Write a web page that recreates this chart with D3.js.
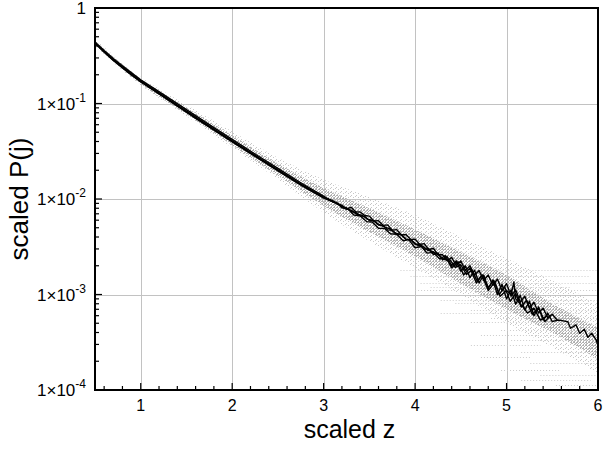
<!DOCTYPE html>
<html>
<head>
<meta charset="utf-8">
<script src="https://cdn.jsdelivr.net/npm/d3@7"></script>
<style>
  body { margin: 0; background: #fff; }
  svg text { font-family: "Liberation Sans", Arial, Helvetica, sans-serif; fill: #000; }
</style>
</head>
<body>
<svg width="603" height="453"></svg>
<script>
// ---- data ----
const xTicks = [1, 2, 3, 4, 5, 6];
const yDecades = [1, 1e-1, 1e-2, 1e-3, 1e-4];

// smooth part, shared z grid
const zSmooth = [0.5, 0.6, 0.7, 0.8, 0.9, 1.0, 1.2, 1.4, 1.6, 1.8, 2.0, 2.25, 2.5, 2.75, 3.0];
const pSmoothA = [0.434, 0.351, 0.288, 0.241, 0.203, 0.172, 0.129, 0.0962, 0.0719, 0.0541, 0.0407, 0.0286, 0.0202, 0.0143, 0.0104];
const pSmoothB = [0.440, 0.358, 0.295, 0.248, 0.209, 0.177, 0.133, 0.0995, 0.0745, 0.0560, 0.0421, 0.0296, 0.0209, 0.0148, 0.0107];
const pSmoothC = [0.426, 0.344, 0.282, 0.236, 0.198, 0.168, 0.126, 0.0935, 0.0700, 0.0526, 0.0396, 0.0279, 0.0197, 0.0140, 0.0102];
const pSmoothD = [0.431, 0.348, 0.286, 0.239, 0.201, 0.170, 0.127, 0.0950, 0.0712, 0.0534, 0.0402, 0.0283, 0.0200, 0.0142, 0.0104];

// noisy tails, [z, P]
const tailA = [
  [3.05, 0.0101], [3.10, 0.00930], [3.15, 0.00905], [3.20, 0.00830], [3.25, 0.00810], [3.30, 0.00740],
  [3.35, 0.00725], [3.40, 0.00665], [3.45, 0.00655], [3.50, 0.00595], [3.55, 0.00590], [3.60, 0.00535],
  [3.65, 0.00530], [3.70, 0.00475], [3.75, 0.00470], [3.80, 0.00425], [3.85, 0.00425], [3.90, 0.00378],
  [3.95, 0.00375], [4.00, 0.00335], [4.05, 0.00338], [4.10, 0.00298], [4.15, 0.00302], [4.20, 0.00262],
  [4.25, 0.00272], [4.30, 0.00230], [4.35, 0.00250], [4.40, 0.00200], [4.45, 0.00225], [4.50, 0.00175],
  [4.55, 0.00200], [4.60, 0.00150], [4.65, 0.00180], [4.70, 0.00132], [4.75, 0.00160], [4.80, 0.00115],
  [4.85, 0.00142], [4.90, 0.00100], [4.95, 0.00128], [5.00, 0.000900], [5.05, 0.00112], [5.10, 0.000790],
  [5.15, 0.000980], [5.20, 0.000690], [5.25, 0.000850], [5.30, 0.000600], [5.35, 0.000740], [5.40, 0.000540],
  [5.45, 0.000640], [5.50, 0.000520], [5.56, 0.000541], [5.61, 0.000532], [5.67, 0.000519], [5.70, 0.000443],
  [5.76, 0.000480], [5.80, 0.000393], [5.85, 0.000432], [5.89, 0.000356], [5.93, 0.000393], [5.98, 0.000334],
  [6.00, 0.000290]
];
const tailB = [
  [3.05, 0.0099], [3.10, 0.00965], [3.15, 0.00880], [3.20, 0.00860], [3.25, 0.00785], [3.30, 0.00820],
  [3.35, 0.00735], [3.40, 0.00730], [3.45, 0.00672], [3.50, 0.00662], [3.55, 0.00588], [3.60, 0.00593],
  [3.65, 0.00530], [3.70, 0.00536], [3.75, 0.00472], [3.80, 0.00478], [3.85, 0.00420], [3.90, 0.00425],
  [3.95, 0.00378], [4.00, 0.00380], [4.05, 0.00334], [4.10, 0.00341], [4.15, 0.00294], [4.20, 0.00305],
  [4.25, 0.00260], [4.30, 0.00262], [4.35, 0.00225], [4.40, 0.00245], [4.45, 0.00200], [4.50, 0.00225],
  [4.55, 0.00178], [4.60, 0.00200], [4.65, 0.00160], [4.70, 0.00178], [4.75, 0.00140], [4.80, 0.00160],
  [4.85, 0.00125], [4.90, 0.00145], [4.95, 0.00110], [5.00, 0.00130], [5.05, 0.000960], [5.10, 0.00112],
  [5.15, 0.000830], [5.20, 0.000960], [5.25, 0.000720], [5.30, 0.000830], [5.35, 0.000640], [5.40, 0.000720],
  [5.45, 0.000570], [5.50, 0.000620], [5.55, 0.000545]
];
const tailC = [
  [3.08, 0.00950], [3.14, 0.00920], [3.20, 0.00810], [3.27, 0.00780], [3.33, 0.00680], [3.40, 0.00665],
  [3.47, 0.00580], [3.53, 0.00575], [3.60, 0.00494], [3.67, 0.00489], [3.73, 0.00432], [3.80, 0.00428],
  [3.87, 0.00366], [3.93, 0.00375], [4.00, 0.00309], [4.07, 0.00318], [4.13, 0.00271], [4.20, 0.00276],
  [4.27, 0.00235], [4.33, 0.00255], [4.40, 0.00190], [4.47, 0.00220], [4.53, 0.00160], [4.60, 0.00190],
  [4.67, 0.00132], [4.73, 0.00160], [4.80, 0.00110], [4.87, 0.00135], [4.93, 0.000960], [5.00, 0.00110],
  [5.05, 0.00100], [5.08, 0.00135], [5.10, 0.000900], [5.17, 0.000760], [5.23, 0.000640], [5.30, 0.000720],
  [5.37, 0.000540], [5.45, 0.000600]
];
const tailD = [
  [3.06, 0.00985], [3.12, 0.00915], [3.18, 0.00870], [3.24, 0.00790], [3.30, 0.00765], [3.36, 0.00695],
  [3.42, 0.00675], [3.48, 0.00615], [3.54, 0.00595], [3.60, 0.00545], [3.66, 0.00510], [3.72, 0.00490],
  [3.78, 0.00440], [3.84, 0.00425], [3.90, 0.00380], [3.96, 0.00372], [4.02, 0.00330], [4.08, 0.00322],
  [4.14, 0.00290], [4.20, 0.00280], [4.26, 0.00258], [4.32, 0.00232], [4.38, 0.00232], [4.44, 0.00192],
  [4.50, 0.00205], [4.56, 0.00162], [4.62, 0.00180], [4.68, 0.00138], [4.74, 0.00160], [4.80, 0.00118],
  [4.86, 0.00140], [4.92, 0.00100], [4.98, 0.00120], [5.04, 0.000850], [5.10, 0.00102], [5.16, 0.000740],
  [5.22, 0.000870], [5.28, 0.000620], [5.35, 0.000720], [5.42, 0.000520], [5.48, 0.000600]
];

// grey scatter cloud, as bands [z, low, high]
const cloudZ = [0.5, 1.0, 1.5, 2.0, 2.5, 3.0, 3.5, 4.0, 4.5, 5.0, 5.5, 6.0];
const haloLo = [0.400, 0.155, 0.074, 0.0345, 0.0160, 0.0072, 0.0036, 0.0019, 0.00100, 0.00050, 0.00028, 0.00015];
const haloHi = [0.470, 0.190, 0.097, 0.0510, 0.0270, 0.0160, 0.0105, 0.0068, 0.0040, 0.0024, 0.0014, 0.00080];
const coreLo = [0.410, 0.160, 0.077, 0.0365, 0.0175, 0.0085, 0.0045, 0.0025, 0.00130, 0.00070, 0.00040, 0.00021];
const coreHi = [0.455, 0.182, 0.091, 0.0465, 0.0235, 0.0130, 0.0080, 0.0048, 0.0028, 0.00160, 0.00080, 0.00045];

// horizontal streaks of the scatter at low counts: level, z from, z to
const streakP = [1.81e-3, 1.56e-3, 1.32e-3, 1.20e-3, 1.11e-3, 8.75e-4, 8.14e-4, 6.89e-4, 6.40e-4, 5.67e-4, 5.15e-4,
  4.25e-4, 3.77e-4, 3.34e-4, 2.96e-4, 2.50e-4, 2.22e-4, 1.92e-4, 1.62e-4, 1.44e-4, 1.27e-4, 1.13e-4];
const streakZ0 = [3.84, 3.95, 4.06, 4.17, 4.00, 4.28, 4.44, 4.61, 4.28, 4.83, 4.61, 4.94, 4.72, 5.05, 4.61, 5.16,
  4.72, 5.26, 4.94, 5.37, 5.16, 5.54];
const streakZ1 = [6.0, 5.92, 6.0, 5.70, 6.0, 6.0, 5.92, 6.0, 5.81, 6.0, 5.87, 6.0, 5.59, 6.0, 5.37, 6.0, 5.26,
  6.0, 5.59, 6.0, 5.92, 6.0];

// ---- chart ----
const pLeft = 95, pRight = 598, pTop = 8, pBottom = 390;
const svg = d3.select('svg');

const x = d3.scaleLinear().domain([0.5, 6]).range([pLeft, pRight]);
const y = d3.scaleLog().domain([1e-4, 1]).range([pBottom, pTop]);

const defs = svg.append('defs');
defs.append('clipPath').attr('id', 'plot')
  .append('rect').attr('x', pLeft).attr('y', pTop)
  .attr('width', pRight - pLeft).attr('height', pBottom - pTop);

// speckle textures for the scatter cloud
const speck = (id, w, h, pts, col) => {
  const p = defs.append('pattern').attr('id', id).attr('patternUnits', 'userSpaceOnUse')
    .attr('width', w).attr('height', h);
  pts.forEach(([px, py]) => p.append('rect').attr('x', px).attr('y', py)
    .attr('width', 1).attr('height', 1).attr('fill', col));
};
speck('halo', 5, 4, [[0, 0], [3, 1], [1, 3]], '#c8c8c8');
speck('core', 3, 3, [[0, 0], [2, 1], [1, 2], [1, 0]], '#b0b0b0');

// grid
const grid = svg.append('g').attr('stroke', '#c2c2c2').attr('stroke-width', 1);
grid.selectAll('.gx').data(xTicks.filter(d => d < 6)).enter().append('line')
  .attr('x1', d => Math.round(x(d)) + 0.5).attr('x2', d => Math.round(x(d)) + 0.5)
  .attr('y1', pTop).attr('y2', pBottom);
grid.selectAll('.gy').data(yDecades.slice(1, 4)).enter().append('line')
  .attr('y1', d => Math.round(y(d)) + 0.5).attr('y2', d => Math.round(y(d)) + 0.5)
  .attr('x1', pLeft).attr('x2', pRight);

const plot = svg.append('g').attr('clip-path', 'url(#plot)');

// scatter cloud
const band = (lo, hi) => d3.area()
  .x((d, i) => x(cloudZ[i]))
  .y0((d, i) => y(lo[i]))
  .y1((d, i) => y(hi[i]))
  .curve(d3.curveMonotoneX)(cloudZ);

plot.append('path').attr('d', band(haloLo, haloHi)).attr('fill', 'url(#halo)');
plot.append('path').attr('d', band(coreLo, coreHi)).attr('fill', 'url(#core)');

plot.selectAll('.streak').data(streakP).enter().append('line')
  .attr('x1', (d, i) => x(streakZ0[i])).attr('x2', (d, i) => x(streakZ1[i]))
  .attr('y1', d => Math.round(y(d)) + 0.5).attr('y2', d => Math.round(y(d)) + 0.5)
  .attr('stroke', '#cdcdcd').attr('stroke-width', 1)
  .attr('stroke-dasharray', '1,2');

// black curves
const line = d3.line().x(d => x(d[0])).y(d => y(d[1]));
const curves = [
  [pSmoothA, tailA], [pSmoothB, tailB], [pSmoothC, tailC], [pSmoothD, tailD]
].map(([ps, tail]) => zSmooth.map((z, i) => [z, ps[i]]).concat(tail));

plot.selectAll('.curve').data(curves).enter().append('path')
  .attr('d', line)
  .attr('fill', 'none').attr('stroke', '#000').attr('stroke-width', 1.4)
  .attr('stroke-linejoin', 'round');

// ticks (inward)
const ticks = svg.append('g').attr('stroke', '#000').attr('stroke-width', 1.2);
const xMinor = d3.range(6, 60, 2).map(d => d / 10).filter(d => d % 1 !== 0);
ticks.selectAll('.xmaj').data(xTicks.filter(d => d < 6)).enter().append('line')
  .attr('x1', d => x(d)).attr('x2', d => x(d)).attr('y1', pBottom).attr('y2', pBottom - 7);
ticks.selectAll('.xmin').data(xMinor).enter().append('line')
  .attr('x1', d => x(d)).attr('x2', d => x(d)).attr('y1', pBottom).attr('y2', pBottom - 4);

const yMinor = [];
yDecades.slice(1).forEach(dec => d3.range(2, 10).forEach(m => yMinor.push(m * dec)));
ticks.selectAll('.ymaj').data(yDecades.slice(1, 4)).enter().append('line')
  .attr('y1', d => y(d)).attr('y2', d => y(d)).attr('x1', pLeft).attr('x2', pLeft + 7);
ticks.selectAll('.ymin').data(yMinor).enter().append('line')
  .attr('y1', d => y(d)).attr('y2', d => y(d)).attr('x1', pLeft).attr('x2', pLeft + 4);

// frame
svg.append('rect').attr('x', pLeft).attr('y', pTop)
  .attr('width', pRight - pLeft).attr('height', pBottom - pTop)
  .attr('fill', 'none').attr('stroke', '#000').attr('stroke-width', 2);

// tick labels
svg.selectAll('.xl').data(xTicks).enter().append('text')
  .attr('x', d => x(d)).attr('y', pBottom + 21)
  .attr('text-anchor', 'middle').attr('font-size', 16)
  .text(d => d);

const yl = svg.selectAll('.yl').data(yDecades).enter().append('text')
  .attr('x', pLeft - 9).attr('y', d => y(d) + 6)
  .attr('text-anchor', 'end').attr('font-size', 17);
yl.filter(d => d === 1).text('1');
yl.filter(d => d !== 1).each(function (d) {
  const e = Math.round(Math.log10(d));
  const t = d3.select(this);
  t.append('tspan').text('1\u00d710');
  t.append('tspan').attr('dy', -8).attr('font-size', 12).text(e);
});

// axis titles
svg.append('text')
  .attr('x', (pLeft + pRight) / 2 + 3).attr('y', 438)
  .attr('text-anchor', 'middle').attr('font-size', 25)
  .text('scaled z');
svg.append('text')
  .attr('transform', `translate(28, ${(pTop + pBottom) / 2}) rotate(-90)`)
  .attr('text-anchor', 'middle').attr('font-size', 26)
  .text('scaled P(j)');
</script>
</body>
</html>
